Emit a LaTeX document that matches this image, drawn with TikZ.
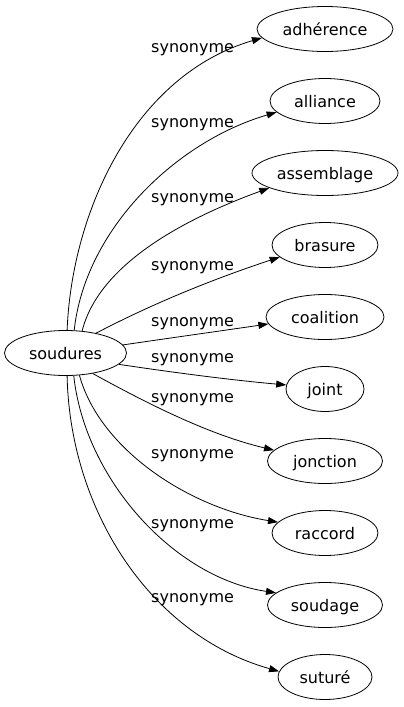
\documentclass[tikz,border=0pt]{standalone}
\usepackage{fontspec}
\setmainfont{DejaVu Sans}
\usetikzlibrary{arrows.meta,shapes.geometric}
\tikzset{
  word/.style={draw, ellipse, line width=0.8pt, inner sep=0pt, minimum height=45pt,
    text height=13pt, text depth=1pt, font=\fontsize{16}{19}\selectfont},
  rel/.style={font=\fontsize{16}{19}\selectfont, anchor=base west, inner sep=0pt},
  link/.style={line width=0.8pt, -{Triangle[length=10pt,width=7pt]}}
}
\begin{document}
\begin{tikzpicture}[x=1pt,y=-1pt]
\useasboundingbox (0,0) rectangle (404,707);
\node[word, minimum width=122pt] (s) at (65.5,353) {soudures};
\node[word, minimum width=136pt] (t1) at (325,29) {adhérence};
\node[word, minimum width=110pt] (t2) at (325,101) {alliance};
\node[word, minimum width=146pt] (t3) at (325,173) {assemblage};
\node[word, minimum width=106pt] (t4) at (325,245) {brasure};
\node[word, minimum width=118pt] (t5) at (325,317) {coalition};
\node[word, minimum width=78pt] (t6) at (325,389) {joint};
\node[word, minimum width=115pt] (t7) at (325,461) {jonction};
\node[word, minimum width=106pt] (t8) at (325,533) {raccord};
\node[word, minimum width=115pt] (t9) at (325,605) {soudage};
\node[word, minimum width=94pt] (t10) at (325,677) {suturé};

\draw[link] (s.86) .. controls (72,210) and (135,75) .. (t1.188);
\draw[link] (s.69) .. controls (85,230) and (175,142) .. (t2.193);
\draw[link] (s.53) .. controls (100,260) and (195,215) .. (t3.195);
\draw[link] (s.33) .. controls (150,305) and (210,280) .. (t4.195);
\draw[link] (s.8) .. controls (170,338) and (220,331) .. (t5.187);
\draw[link] (s.348) .. controls (170,372) and (230,380) .. (t6.174);
\draw[link] (s.323) .. controls (150,405) and (210,435) .. (t7.168);
\draw[link] (s.302) .. controls (100,450) and (190,508) .. (t8.167);
\draw[link] (s.290) .. controls (85,480) and (175,578) .. (t9.166);
\draw[link] (s.274) .. controls (70,510) and (150,635) .. (t10.173);

\node[rel] (l1) at (151,52) {synonyme};
\node[rel] (l2) at (151,127) {synonyme};
\node[rel] (l3) at (151,202) {synonyme};
\node[rel] (l4) at (151,270) {synonyme};
\node[rel] (l5) at (151,326) {synonyme};
\node[rel] (l6) at (151,362) {synonyme};
\node[rel] (l7) at (151,402) {synonyme};
\node[rel] (l8) at (151,458) {synonyme};
\node[rel] (l9) at (151,528) {synonyme};
\node[rel] (l10) at (151,602) {synonyme};
\end{tikzpicture}
\end{document}
